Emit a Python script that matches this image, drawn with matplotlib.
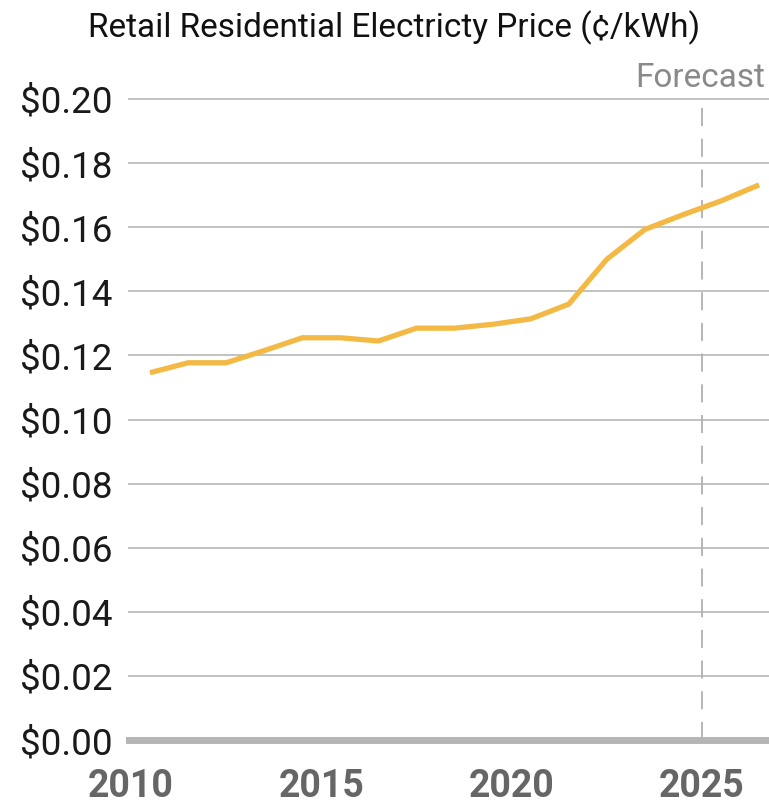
import matplotlib
matplotlib.use("Agg")
import matplotlib.pyplot as plt
from matplotlib.ticker import FixedLocator, FuncFormatter

# ---- data ----
years = [2010.5, 2011.5, 2012.5, 2013.5, 2014.5, 2015.5, 2016.5, 2017.5, 2018.5,
         2019.5, 2020.5, 2021.5, 2022.5, 2023.5, 2024.5, 2025.5, 2026.5]
price = [0.1146, 0.1177, 0.1177, 0.1215, 0.1255, 0.1255, 0.1245, 0.1285, 0.1285,
         0.1297, 0.1314, 0.1360, 0.1500, 0.1593, 0.1639, 0.1682, 0.1732]
x_ticks = [2010, 2015, 2020, 2025]
y_ticks = [0.00, 0.02, 0.04, 0.06, 0.08, 0.10, 0.12, 0.14, 0.16, 0.18, 0.20]
forecast_year = 2025
title = "Retail Residential Electricty Price (¢/kWh)"
forecast_label = "Forecast"

plt.rcParams['font.family'] = ['Roboto', 'DejaVu Sans']

fig = plt.figure(figsize=(7.69, 8.07), dpi=100)
ax = fig.add_axes([129/769, 1-740/807, 1-129/769, (740-99)/807])

ax.set_xlim(2009.947, 2026.76)
ax.set_ylim(0, 0.20)

# gridlines
for v in y_ticks[1:]:
    ax.axhline(v, color='#c2c2c2', lw=1.4, zorder=1, clip_on=False)

# forecast divider
ax.plot([forecast_year, forecast_year], [0, 0.20], color='#b0b0b0', lw=1.3,
        dashes=(10, 7), zorder=2, clip_on=False)

ax.plot(years, price, color='#F3B944', lw=3.8, solid_capstyle='butt', zorder=3,
        clip_on=False)

for s in ['top', 'right', 'left']:
    ax.spines[s].set_visible(False)
ax.spines['bottom'].set_color('#b5b5b5')
ax.spines['bottom'].set_linewidth(5)
ax.spines['bottom'].set_zorder(4)

ax.yaxis.set_major_locator(FixedLocator(y_ticks))
ax.yaxis.set_major_formatter(FuncFormatter(lambda v, p: f"${v:.2f}"))
ax.xaxis.set_major_locator(FixedLocator(x_ticks))
ax.tick_params(axis='y', length=0, pad=12, labelsize=26.5, labelcolor='#1a1a1a')
ax.tick_params(axis='x', length=0, pad=20, labelsize=27, labelcolor='#666666')
for t in ax.get_xticklabels():
    t.set_fontweight('bold')

fig.text(394/769, 1-28/807, title, ha='center', va='center', fontsize=24,
         color='#111111')
fig.text(765/769, 1-78/807, forecast_label, ha='right', va='center', fontsize=24,
         color='#8a8a8a')

fig.savefig("out.png", dpi=100)
